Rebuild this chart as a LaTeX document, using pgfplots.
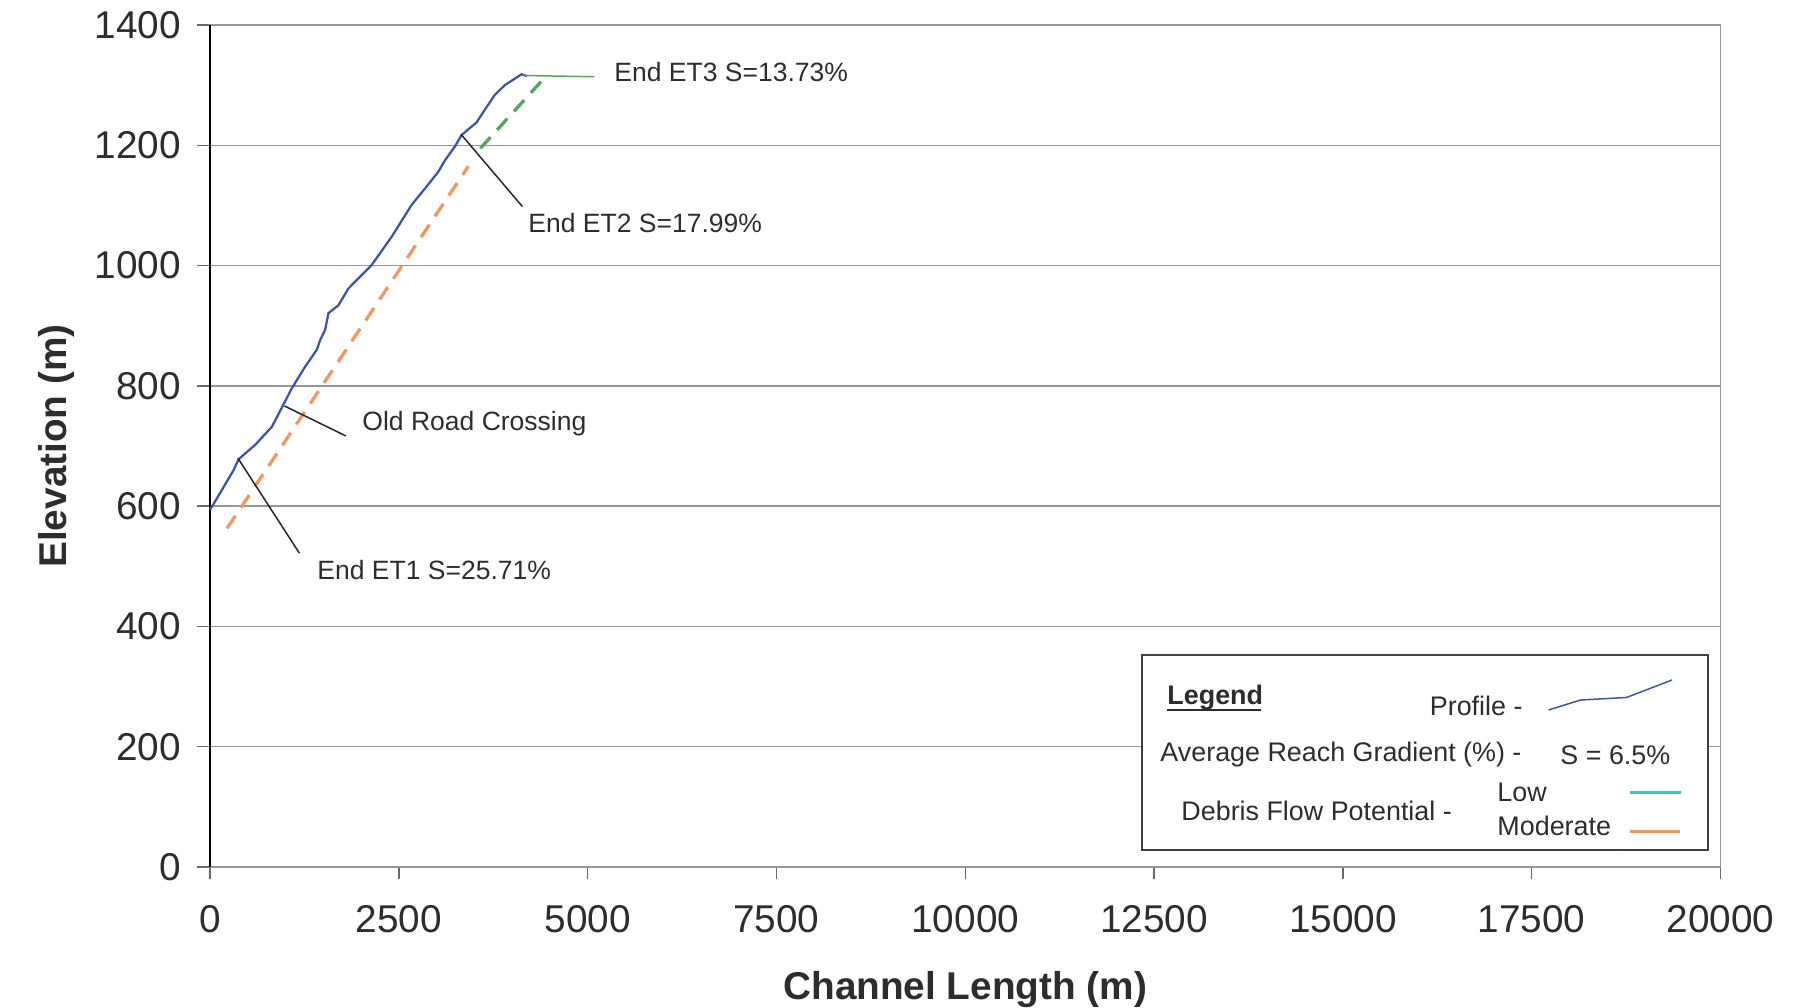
\documentclass[border=0pt]{standalone}
\usepackage{fontspec}
\setmainfont{Liberation Sans}
\usepackage{pgfplots}
\pgfplotsset{compat=1.18}
\definecolor{profblue}{RGB}{60,85,165}
\definecolor{modorange}{RGB}{242,150,100}
\definecolor{lowgreen}{RGB}{85,165,95}
\definecolor{lowcyan}{RGB}{70,185,215}
\definecolor{gridgray}{RGB}{150,150,150}
\definecolor{txtgray}{RGB}{45,45,45}
\begin{document}
\begin{tikzpicture}
\useasboundingbox (0,0) rectangle (718.4pt,-403.2pt);
\begin{axis}[
 at={(84pt,-346.8pt)}, anchor=south west,
 scale only axis, width=604.2pt, height=336.8pt,
 xmin=0, xmax=20000, ymin=0, ymax=1400,
 xtick={0,2500,...,20000}, ytick={0,200,...,1400},
 scaled x ticks=false, scaled y ticks=false,
 tick pos=left,
 tick align=outside, major tick length=5pt,
 ymajorgrids, grid style={gridgray, line width=0.6pt},
 axis line style={gridgray, line width=0.6pt},
 tick style={gridgray!70!black, line width=0.6pt},
 /pgf/number format/1000 sep={},
 /pgf/number format/assume math mode=true,
 ticklabel style={font=\fontsize{15.5}{18}\selectfont, text=txtgray},
 xticklabel style={yshift=-7pt},
 yticklabel style={xshift=-3.2pt},
 xlabel={Channel Length (m)}, ylabel={Elevation (m)},
 label style={font=\fontsize{15.5}{18}\selectfont\bfseries, text=txtgray},
 xlabel style={at={(axis description cs:0.5,-0.145)}, anchor=center},
 ylabel style={at={(axis description cs:-0.1015,0.5)}, anchor=center},
 clip=false,
]
\draw[black, line width=0.8pt] (axis cs:0,0) -- (axis cs:0,1400);
\addplot[profblue, line width=0.9pt] coordinates {
(0,594) (26,599) (313,660) (379,678) (599,702) (820,732) (1084,796) (1260,832)
(1414,860) (1458,876) (1524,893) (1569,921) (1701,934) (1833,962) (2141,1001)
(2406,1048) (2670,1101) (2846,1128) (3023,1156) (3111,1175) (3243,1198)
(3331,1217) (3529,1238) (3639,1259) (3772,1284) (3904,1300) (4124,1318) (4200,1315)
};
\addplot[modorange, line width=1.3pt, dash pattern=on 6pt off 4pt] coordinates {(225,563) (3420,1165)};
\addplot[lowgreen, line width=1.3pt, dash pattern=on 6pt off 4pt] coordinates {(3580,1195) (4420,1311)};
\addplot[lowgreen, line width=0.6pt] coordinates {(4150,1316) (5090,1314)};
\end{axis}
\begin{scope}[x=0.4pt, y=-0.4pt]
\draw[black!85, line width=0.6pt] (238,458.3) -- (299.5,553.3);
\draw[black!85, line width=0.6pt] (284.5,406) -- (346,436);
\draw[black!85, line width=0.6pt] (461,134.3) -- (522.5,206.7);
\begin{scope}[font=\fontsize{10.6}{12}\selectfont, text=txtgray]
\node[anchor=west, inner sep=0] at (614,72) {End ET3 S=13.73\%};
\node[anchor=west, inner sep=0] at (528,223) {End ET2 S=17.99\%};
\node[anchor=west, inner sep=0] at (362,424) {Old Road Crossing};
\node[anchor=west, inner sep=0] at (317,570) {End ET1 S=25.71\%};
\end{scope}
\draw[fill=white, draw=black!75, line width=0.6pt] (1142,655) rectangle (1708,850);
\begin{scope}[font=\fontsize{10.75}{12}\selectfont, text=txtgray]
\node[anchor=west, inner sep=0] at (1167,697.5) {\textbf{Legend}};
\draw[txtgray, line width=0.6pt] (1167,710) -- (1261,710);
\node[anchor=east, inner sep=0] at (1523,705.5) {Profile -};
\node[anchor=west, inner sep=0] at (1160,755) {Average Reach Gradient (\%) -};
\node[anchor=west, inner sep=0] at (1560,755) {S = 6.5\%};
\node[anchor=west, inner sep=0] at (1181,811) {Debris Flow Potential -};
\node[anchor=west, inner sep=0] at (1497,792.6) {Low};
\node[anchor=west, inner sep=0] at (1497,826) {Moderate};
\end{scope}
\draw[profblue, line width=0.6pt] (1548.6,710) -- (1580.7,700) -- (1626.5,697.5) -- (1672,680);
\draw[lowcyan, line width=1.3pt] (1630,792.6) -- (1681,792.6);
\draw[modorange, line width=1.3pt] (1630,831.5) -- (1680,831.5);
\end{scope}
\end{tikzpicture}
\end{document}
